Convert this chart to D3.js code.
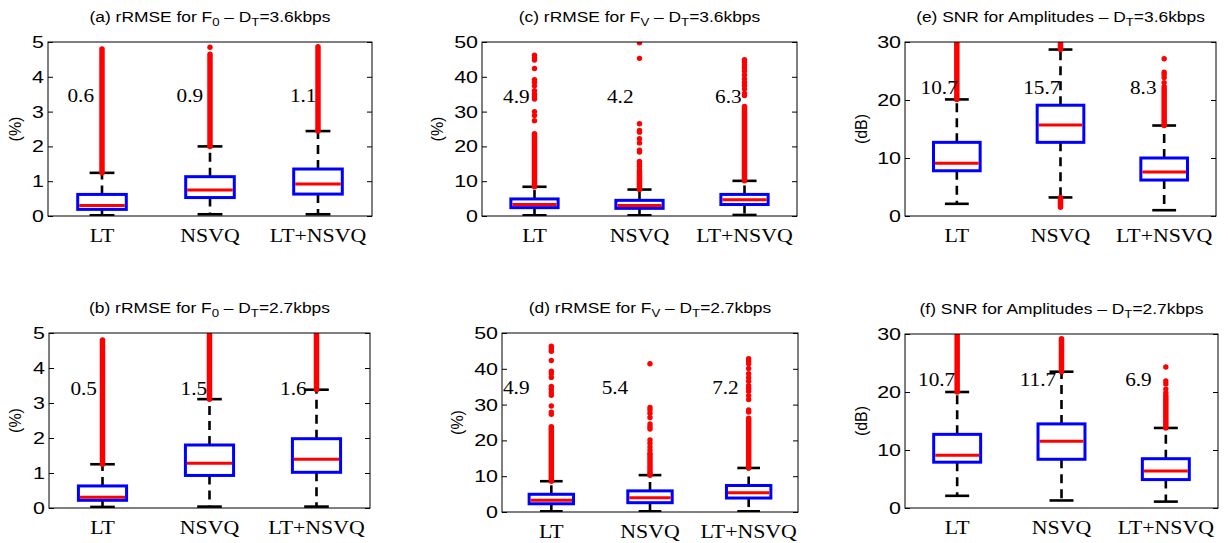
<!DOCTYPE html>
<html>
<head>
<meta charset="utf-8">
<script src="https://cdn.jsdelivr.net/npm/d3@7"></script>
<style>
  body { margin: 0; background: #fff; }
</style>
</head>
<body>
<div id="chart"></div>
<script>
// categories shared by all six panels
var categories = ["LT", "NSVQ", "LT+NSVQ"];

// panel order: a, b, c, d, e, f
var panelNames = ["a", "b", "c", "d", "e", "f"];
var titleParts = [
	["(a) rRMSE for F", "0", " \u2013 D", "T", "=3.6kbps"],
	["(b) rRMSE for F", "0", " \u2013 D", "T", "=2.7kbps"],
	["(c) rRMSE for F", "V", " \u2013 D", "T", "=3.6kbps"],
	["(d) rRMSE for F", "V", " \u2013 D", "T", "=2.7kbps"],
	["(e) SNR for Amplitudes \u2013 D", "T", "=3.6kbps"],
	["(f) SNR for Amplitudes \u2013 D", "T", "=2.7kbps"]
];
var yLabels = ["(%)", "(%)", "(%)", "(%)", "(dB)", "(dB)"];
var yMax = [5, 5, 50, 50, 30, 30];
var yTicks = [
	[0, 1, 2, 3, 4, 5],
	[0, 1, 2, 3, 4, 5],
	[0, 10, 20, 30, 40, 50],
	[0, 10, 20, 30, 40, 50],
	[0, 10, 20, 30],
	[0, 10, 20, 30]
];

// box statistics, one value per category
var q1 = [[0.19, 0.53, 0.63], [0.22, 0.93, 1.02], [2.4, 2.2, 3.3], [2.3, 2.6, 3.9], [7.8, 12.7, 6.2], [7.9, 8.4, 4.9]];
var median = [[0.30, 0.75, 0.92], [0.31, 1.28, 1.39], [3.3, 3.0, 4.7], [3.3, 4.0, 5.4], [9.1, 15.7, 7.6], [9.1, 11.5, 6.4]];
var q3 = [[0.62, 1.13, 1.35], [0.63, 1.80, 1.98], [4.9, 4.5, 6.2], [4.95, 5.9, 7.4], [12.7, 19.1, 10.0], [12.7, 14.5, 8.5]];
var whiskLo = [[0.02, 0.05, 0.05], [0.03, 0.04, 0.04], [0.2, 0.2, 0.3], [0.2, 0.2, 0.2], [2.1, 3.2, 1.0], [2.1, 1.3, 1.1]];
var whiskHi = [[1.24, 2.00, 2.44], [1.25, 3.11, 3.38], [8.4, 7.6, 10.1], [8.6, 10.3, 12.3], [20.1, 28.7, 15.6], [20.0, 23.5, 13.8]];

// mean values written above each box
var meanText = [
	["0.6", "0.9", "1.1"],
	["0.5", "1.5", "1.6"],
	["4.9", "4.2", "6.3"],
	["4.9", "5.4", "7.2"],
	["10.7", "15.7", "8.3"],
	["10.7", "11.7", "6.9"]
];

// outliers so dense they merge into a column: [from, to] runs
var denseOutliers = [
	[[[1.24, 4.8]], [[2.0, 4.65]], [[2.44, 4.86]]],
	[[[1.25, 4.8]], [[3.11, 5.0]], [[3.38, 5.0]]],
	[[[8.4, 23.6]], [[7.6, 12.7]], [[10.1, 31.5]]],
	[[[8.6, 23.8]], [[10.3, 15.9]], [[12.3, 26.2]]],
	[[[20.1, 29.8]], [[28.7, 30.0], [1.5, 3.2]], [[15.6, 22.3]]],
	[[[20.0, 30.0]], [[23.5, 29.2]], [[13.8, 19.4]]]
];

// single outliers that stand apart
var sparseOutliers = [
	[[], [4.85], []],
	[[], [], []],
	[[46.2, 45.4, 44.8, 42.4, 39.2, 38.4, 37.4, 36, 35, 34.3, 33.6, 30, 28.9, 27.4],
	 [49.8, 45.3, 26.5, 24.6, 24.1, 22.2, 21, 18.9, 18.4, 15.7, 15, 14.3, 13.3],
	 [44.9, 44.2, 43.4, 42.6, 41.7, 40.5, 39.4, 38.4, 37.5, 36.5, 35.2, 34.6]],
	[[46.3, 45.6, 44.9, 42.3, 39.3, 38.6, 37.6, 35.1, 34.3, 33.4, 32.6, 29.6, 27.9, 27.3],
	 [41.4, 29.2, 28.5, 27.6, 26.4, 24.6, 23.8, 23.2, 20.1, 19.2, 18.2, 17.3, 16.4],
	 [42.8, 42.1, 41.4, 40.1, 38.6, 37.5, 36.5, 35.3, 34.5, 33.7, 32.5, 31.4, 28.5, 27.9]],
	[[], [], [27.1, 24.8, 24.4, 23.9, 23.0]],
	[[], [], [24.3, 21.9, 21.4, 20.5, 19.9]]
];

// layout: axes frame [left, top, right, bottom], y label x, text placement
var frames = [
	[48, 42, 372, 216],
	[49, 333, 370, 508],
	[482, 42, 797, 216],
	[502, 333, 798, 512],
	[905, 42, 1216, 216],
	[905, 334, 1218, 508]
];
var yLabelX = [15, 15, 437, 457, 861, 861];
var textFrac = [0.655, 0.645, 0.65, 0.66, 0.70, 0.70];
var textShift = [
	[-0.32, -0.31, -0.26],
	[-0.30, -0.27, -0.34],
	[-0.30, -0.31, -0.28],
	[-0.49, -0.49, -0.37],
	[-0.35, -0.36, -0.33],
	[-0.375, -0.40, -0.39]
];

var SANS = "'Liberation Sans', Arial, sans-serif";
var SERIF = "'Liberation Serif', 'Times New Roman', serif";
var BOX_W = 0.45, CAP_W = 0.23;
// the source picture is stretched sideways, so its glyphs are wider
var TICK_SX = 1.3, TITLE_SX = 1.2, SERIF_SX = 1.12;

var svg = d3.select("#chart")
	.append("svg")
	.attr("width", 1228)
	.attr("height", 543);

function place(x, y, sx) {
	return "translate(" + x + "," + y + ")scale(" + sx + ",1)";
}

panelNames.forEach(function(name, p) {
	var f = frames[p];
	var x = d3.scaleLinear().domain([0.5, 3.5]).range([f[0], f[2]]);
	var y = d3.scaleLinear().domain([0, yMax[p]]).range([f[3], f[1]]);
	var g = svg.append("g").attr("class", "panel-" + name);

	g.append("clipPath").attr("id", "clip-" + name)
		.append("rect")
		.attr("x", f[0]).attr("y", f[1])
		.attr("width", f[2] - f[0]).attr("height", f[3] - f[1]);

	// ticks pointing inward on both sides
	g.append("g")
		.attr("transform", "translate(" + f[0] + ",0)")
		.call(d3.axisRight(y).tickValues(yTicks[p]).tickSize(5).tickFormat(""))
		.select(".domain").remove();
	g.append("g")
		.attr("transform", "translate(" + f[2] + ",0)")
		.call(d3.axisLeft(y).tickValues(yTicks[p]).tickSize(5).tickFormat(""))
		.select(".domain").remove();
	g.selectAll(".tick line").attr("stroke", "#000");

	g.append("g").selectAll("text")
		.data(yTicks[p])
		.enter()
		.append("text")
		.attr("transform", function(d) { return place(f[0] - 4, y(d), TICK_SX); })
		.attr("dy", "0.36em")
		.attr("text-anchor", "end")
		.attr("font-family", SANS)
		.style("font-size", "16.5px")
		.text(function(d) { return d; });

	// category labels
	g.append("g").selectAll("text")
		.data(categories)
		.enter()
		.append("text")
		.attr("transform", function(d, i) { return place(x(i + 1), f[3] + 26, SERIF_SX); })
		.attr("text-anchor", "middle")
		.attr("font-family", SERIF)
		.style("font-size", "19.5px")
		.text(function(d) { return d; });

	// y label
	g.append("text")
		.attr("transform", "translate(" + yLabelX[p] + "," + ((f[1] + f[3]) / 2) + ")rotate(-90)")
		.attr("dy", "0.35em")
		.attr("text-anchor", "middle")
		.attr("font-family", SANS)
		.style("font-size", "16px")
		.text(yLabels[p]);

	// title with subscripts
	var title = g.append("text")
		.attr("transform", place((f[0] + f[2]) / 2, f[1] - 20, TITLE_SX))
		.attr("text-anchor", "middle")
		.attr("font-family", SANS)
		.style("font-size", "14.5px");
	titleParts[p].forEach(function(part, k) {
		var isSub = (titleParts[p].length === 5) ? (k === 1 || k === 3) : (k === 1);
		title.append("tspan")
			.attr("baseline-shift", isSub ? "-30%" : null)
			.style("font-size", isSub ? "11px" : null)
			.text(part);
	});

	var marks = g.append("g").attr("clip-path", "url(#clip-" + name + ")");

	categories.forEach(function(c, i) {
		var cx = x(i + 1);

		// whiskers
		[[q3[p][i], whiskHi[p][i]], [q1[p][i], whiskLo[p][i]]].forEach(function(w) {
			marks.append("line")
				.attr("x1", cx).attr("x2", cx)
				.attr("y1", y(w[0])).attr("y2", y(w[1]))
				.attr("stroke", "#000")
				.attr("stroke-width", 2.6)
				.attr("stroke-dasharray", "9,6");
			marks.append("line")
				.attr("x1", x(i + 1 - CAP_W / 2)).attr("x2", x(i + 1 + CAP_W / 2))
				.attr("y1", y(w[1])).attr("y2", y(w[1]))
				.attr("stroke", "#000")
				.attr("stroke-width", 2.6);
		});

		// outliers
		denseOutliers[p][i].forEach(function(r) {
			marks.append("line")
				.attr("x1", cx).attr("x2", cx)
				.attr("y1", y(r[0])).attr("y2", y(r[1]))
				.attr("stroke", "#ff0000")
				.attr("stroke-width", 5.5)
				.attr("stroke-linecap", "round");
		});
		marks.selectAll(null)
			.data(sparseOutliers[p][i])
			.enter()
			.append("circle")
			.attr("cx", cx)
			.attr("cy", function(d) { return y(d); })
			.attr("r", 2.7)
			.attr("fill", "#ff0000");

		// box
		marks.append("rect")
			.attr("x", x(i + 1 - BOX_W / 2))
			.attr("y", y(q3[p][i]))
			.attr("width", x(i + 1 + BOX_W / 2) - x(i + 1 - BOX_W / 2))
			.attr("height", y(q1[p][i]) - y(q3[p][i]))
			.attr("fill", "#fff")
			.attr("stroke", "#0000ff")
			.attr("stroke-width", 3);
		marks.append("line")
			.attr("x1", x(i + 1 - BOX_W / 2) + 1.5).attr("x2", x(i + 1 + BOX_W / 2) - 1.5)
			.attr("y1", y(median[p][i])).attr("y2", y(median[p][i]))
			.attr("stroke", "#ff0000")
			.attr("stroke-width", 3);

		// mean value text
		g.append("text")
			.attr("transform", place(x(i + 1 + textShift[p][i]), y(yMax[p] * textFrac[p]), SERIF_SX))
			.attr("font-family", SERIF)
			.style("font-size", "19px")
			.text(meanText[p][i]);
	});

	// frame
	g.append("rect")
		.attr("x", f[0]).attr("y", f[1])
		.attr("width", f[2] - f[0]).attr("height", f[3] - f[1])
		.attr("fill", "none")
		.attr("stroke", "#000")
		.attr("stroke-width", 1);
});
</script>
</body>
</html>
